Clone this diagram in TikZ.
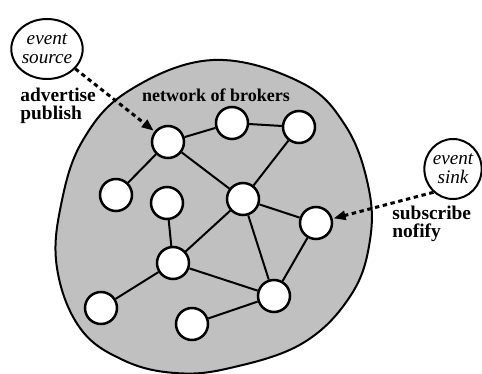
\documentclass[tikz,border=0pt]{standalone}
\usepackage{fontspec}
\setmainfont{Liberation Serif}
\usetikzlibrary{arrows.meta,shapes.geometric}

\definecolor{cloudgray}{HTML}{C0C0C0}

\tikzset{
  broker/.style={circle, draw=black, fill=white, line width=1.25pt,
                 minimum size=16pt, inner sep=0pt},
  link/.style={line width=1pt},
  endpoint/.style={ellipse, draw=black, fill=white, line width=1pt,
                   inner sep=0pt, align=center,
                   font=\fontsize{9.6}{9.6}\selectfont\itshape},
  flow/.style={line width=1.5pt, dash pattern=on 2.2pt off 1.8pt,
               -{Triangle[length=6pt,width=4.5pt]}, shorten >=0.5pt},
  oplabel/.style={align=left, inner sep=0pt,
                  font=\fontsize{9.7}{9.3}\selectfont\bfseries},
}

\begin{document}
\begin{tikzpicture}[x=0.5pt, y=-0.5pt]
  \useasboundingbox (0,0) rectangle (482,374);

  % the broker network region
  \draw[fill=cloudgray, line width=1pt]
    plot[smooth cycle, tension=0.65] coordinates {
      (213,60) (300,82) (345,125) (368,185) (370,240) (351,295)
      (303,343) (230,368) (175,373) (123,360) (80,328) (57,268)
      (61,205) (83,140) (130,90)};

  \node[font=\fontsize{9}{10}\selectfont\bfseries] (title) at (216,95)
    {network of brokers};

  % brokers
  \node[broker] (A) at (168,142) {};
  \node[broker] (B) at (232,123) {};
  \node[broker] (C) at (299,127) {};
  \node[broker] (D) at (243,199) {};
  \node[broker] (E) at (316,223) {};
  \node[broker] (F) at (116,195) {};
  \node[broker] (G) at (167,203) {};
  \node[broker] (H) at (173,263) {};
  \node[broker] (I) at (274,296) {};
  \node[broker] (J) at (101,308) {};
  \node[broker] (K) at (192,324) {};

  % links between brokers
  \foreach \u/\v in {A/B, B/C, A/F, A/D, C/D, D/E, D/H, D/I,
                     G/H, H/J, H/I, E/I, I/K}
    \draw[link] (\u) -- (\v);

  % event source and sink
  \node[endpoint, minimum width=34pt, minimum height=30pt] (src) at (47,49)
    {event\\source};
  \node[endpoint, minimum width=28pt, minimum height=30pt] (snk) at (453,169)
    {event\\sink};

  \draw[flow] (src.-35) -- (A);
  \draw[flow] (snk.230) -- (E);

  \node[oplabel, anchor=west] (adv) at (20,106) {advertise\\publish};
  \node[oplabel, anchor=west] (sub) at (392,224) {subscribe\\nofify};
\end{tikzpicture}
\end{document}
